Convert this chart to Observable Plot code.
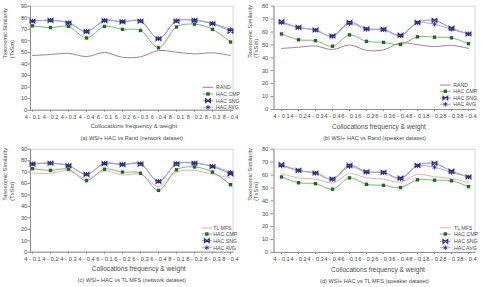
<!DOCTYPE html>
<html>
<head>
<meta charset="utf-8">
<script src="https://cdn.jsdelivr.net/npm/d3@7"></script>
<script src="https://cdn.jsdelivr.net/npm/@observablehq/plot@0.6"></script>
<style>
  html, body { margin: 0; padding: 0; background: #fff; }
  #wrap { position: relative; width: 481px; height: 287px; overflow: hidden; font-family: "Liberation Sans", Arial, sans-serif; }
  .panel { position: absolute; }
</style>
</head>
<body>
<div id="wrap"></div>
<script>
// Collocation frequency & weight settings on the x axis
const categories = ["4 - 0.1", "4 - 0.2", "4 - 0.3", "4 - 0.4", "6 - 0.1", "6 - 0.2", "6 - 0.3", "6 - 0.4", "8 - 0.1", "8 - 0.2", "8 - 0.3", "8 - 0.4"];

// Baselines
const randValues = [47.3, 48.2, 49.2, 46.4, 50.0, 45.8, 46.2, 51.6, 50.2, 48.7, 49.7, 47.3];
const networkTlMfs = [69.0, 69.0, 71.0, 64.5, 71.0, 67.5, 68.0, 57.5, 70.0, 71.5, 68.0, 65.0];
const speakerTlMfs = [61.0, 57.8, 56.8, 54.0, 61.0, 57.8, 56.8, 54.5, 60.5, 58.6, 57.3, 54.0];

// WSI + HAC, network dataset
const networkCmp = [73.0, 71.5, 72.5, 62.5, 72.5, 70.0, 69.0, 54.0, 72.0, 74.5, 70.0, 59.0];
const networkSng = [77.0, 77.7, 75.5, 68.0, 77.4, 76.5, 77.0, 61.8, 77.0, 77.7, 74.8, 68.4];
const networkAvg = [77.2, 77.9, 75.8, 68.2, 77.8, 76.8, 77.4, 62.0, 77.5, 78.0, 75.2, 70.0];

// WSI + HAC, speaker dataset
const speakerCmp = [58.5, 54.0, 53.3, 49.0, 57.8, 52.8, 52.0, 50.3, 56.3, 56.0, 55.5, 51.0];
const speakerSng = [68.0, 63.6, 61.6, 56.9, 67.5, 62.5, 62.0, 57.6, 67.5, 69.0, 63.0, 58.5];
const speakerAvg = [67.0, 63.4, 61.4, 56.6, 66.5, 62.0, 61.8, 57.0, 67.0, 66.0, 62.0, 58.5];

const ticksTo90 = [0, 10, 20, 30, 40, 50, 60, 70, 80, 90];
const ticksTo80 = [0, 10, 20, 30, 40, 50, 60, 70, 80];

const xTitle = "Collocations frequency & weight";
const yTitle = "Taxonomic Similarity";
const yUnit = "(TxSm)";

const colors = {
  text: "#4a4a4a",
  axis: "#8f8f8f",
  rand: "#b07a90",
  tl: "#f2aab4",
  cmpLine: "#72bc72",
  cmpMark: "#1c6a1c",
  sngLine: "#8d8ad6",
  avgLine: "#a9a7e2",
  mark: "#2a2a88"
};

// X with closed sides, like a small bowtie
const bowtie = {
  draw(ctx, size) {
    const r = Math.sqrt(size / Math.PI);
    const h = r * 0.8;
    ctx.moveTo(-r, -h); ctx.lineTo(r, h); ctx.lineTo(r, -h); ctx.lineTo(-r, h); ctx.closePath();
  }
};

const rows = (values) => categories.map((category, i) => ({category, value: values[i]}));

function panel(cfg) {
  const base = rows(cfg.baseline.values);
  const cmp = rows(cfg.cmp), sng = rows(cfg.sng), avg = rows(cfg.avg);
  const curve = "catmull-rom";
  const chart = Plot.plot({
    width: cfg.width, height: cfg.height,
    marginLeft: cfg.mL, marginRight: cfg.mR, marginTop: cfg.mT, marginBottom: cfg.mB,
    style: {fontFamily: '"Liberation Sans", Arial, sans-serif', color: colors.text, background: "white", overflow: "visible"},
    x: {type: "point", domain: categories, padding: cfg.pad, label: null},
    y: {domain: [0, cfg.yMax], label: null},
    marks: [
      Plot.frame({stroke: "#d8d8d8"}),
      Plot.frame({anchor: "left", stroke: colors.axis}),
      Plot.frame({anchor: "bottom", stroke: colors.axis}),
      Plot.axisY({ticks: cfg.yTicks, tickSize: cfg.yTickSize, tickPadding: cfg.yTickPad, fontSize: 5.6, stroke: colors.axis, label: null}),
      Plot.axisX({tickSize: 2, tickPadding: 2.5, fontSize: cfg.xTickFont, stroke: colors.axis, label: null}),
      Plot.line(base, {x: "category", y: "value", stroke: cfg.baseline.color, strokeWidth: 1, curve}),
      Plot.line(cmp, {x: "category", y: "value", stroke: colors.cmpLine, strokeWidth: 1, curve}),
      Plot.line(sng, {x: "category", y: "value", stroke: colors.sngLine, strokeWidth: 1, curve}),
      Plot.line(avg, {x: "category", y: "value", stroke: colors.avgLine, strokeWidth: 1, curve}),
      Plot.dot(cmp, {x: "category", y: "value", symbol: "square", r: 1.9, fill: colors.cmpMark}),
      Plot.dot(sng, {x: "category", y: "value", symbol: bowtie, r: 2.35, fill: "none", stroke: colors.mark, strokeWidth: 1.15}),
      Plot.dot(avg, {x: "category", y: "value", symbol: "asterisk", r: 2.1, stroke: colors.mark, strokeWidth: 0.9}),
      Plot.text([yTitle], {text: d => d, frameAnchor: "left", rotate: -90, dx: cfg.yTitleDx[0], fontSize: cfg.yTitleFont}),
      Plot.text([yUnit], {text: d => d, frameAnchor: "left", rotate: -90, dx: cfg.yTitleDx[1], fontSize: cfg.yTitleFont}),
      Plot.text([xTitle], {text: d => d, frameAnchor: "bottom", lineAnchor: "middle", dx: cfg.xTitleDx, dy: cfg.xTitleDy, fontSize: cfg.titleFont}),
      Plot.text([cfg.caption], {text: d => d, frameAnchor: "bottom", lineAnchor: "middle", dy: cfg.captionDy, fontSize: 5.6})
    ]
  });

  // Legend in the lower right corner of the plot area
  const lg = cfg.legend;
  const entries = [
    {label: cfg.baseline.name, line: cfg.baseline.color},
    {label: "HAC CMP", line: colors.cmpLine, symbol: d3.symbol(d3.symbolSquare, 1.9 * 1.9 * Math.PI)(), fill: colors.cmpMark},
    {label: "HAC SNG", line: colors.sngLine, symbol: d3.symbol(bowtie, 2.35 * 2.35 * Math.PI)(), stroke: colors.mark, sw: 1.15},
    {label: "HAC AVG", line: colors.avgLine, symbol: d3.symbol(d3.symbolAsterisk, 2.1 * 2.1 * Math.PI)(), stroke: colors.mark, sw: 0.9}
  ];
  const g = d3.select(chart).append("g")
    .attr("font-size", 5.2).attr("fill", colors.text).attr("text-anchor", "start");
  entries.forEach((e, i) => {
    const y = lg.rows[i];
    g.append("line").attr("x1", lg.x0).attr("x2", lg.x1).attr("y1", y).attr("y2", y).attr("stroke", e.line).attr("stroke-width", 1);
    if (e.symbol) {
      g.append("path").attr("d", e.symbol)
        .attr("transform", `translate(${(lg.x0 + lg.x1) / 2},${y})`)
        .attr("fill", e.fill || "none").attr("stroke", e.stroke || "none").attr("stroke-width", e.sw || 0);
    }
    g.append("text").attr("x", lg.tx).attr("y", y).attr("dy", "0.35em").text(e.label);
  });

  chart.classList.add("panel");
  chart.style.left = cfg.left + "px";
  chart.style.top = cfg.top + "px";
  document.getElementById("wrap").appendChild(chart);
}

const wide = {xTickFont: 5.5, titleFont: 6.1, yTitleFont: 5.5};
const tight = {xTickFont: 5.8, titleFont: 6.6, yTitleFont: 5.8};

panel({
  ...wide, left: 0, top: 0, width: 240, height: 143, mL: 30, mR: 7.5, mT: 5.7, mB: 33.3, pad: 0.04,
  yMax: 90, yTicks: ticksTo90, yTickSize: 2.5, yTickPad: 0.8, yTitleDx: [-25, -18],
  xTitleDx: 2, xTitleDy: 16.3, captionDy: 27.6,
  baseline: {name: "RAND", values: randValues, color: colors.rand},
  cmp: networkCmp, sng: networkSng, avg: networkAvg,
  caption: "(a) WSI+ HAC vs Rand (network dataset)",
  legend: {rows: [87.3, 94, 100.7, 107.3], x0: 202.7, x1: 213.3, tx: 216}
});

panel({
  ...tight, left: 240, top: 0, width: 241, height: 143, mL: 33.5, mR: 6.5, mT: 5.7, mB: 34, pad: 0.12,
  yMax: 80, yTicks: ticksTo80, yTickSize: 3, yTickPad: 2.8, yTitleDx: [-24, -18],
  xTitleDx: 4.5, xTitleDy: 17, captionDy: 29,
  baseline: {name: "RAND", values: randValues, color: colors.rand},
  cmp: speakerCmp, sng: speakerSng, avg: speakerAvg,
  caption: "(b) WSI+ HAC vs Rand (speaker dataset)",
  legend: {rows: [85, 91.3, 98, 104.3], x0: 200, x1: 210.7, tx: 213.3}
});

panel({
  ...tight, left: 0, top: 143, width: 240, height: 144, mL: 30, mR: 7.5, mT: 5.7, mB: 35.3, pad: 0.04,
  yMax: 90, yTicks: ticksTo90, yTickSize: 2.5, yTickPad: 0.8, yTitleDx: [-25, -18],
  xTitleDx: 7, xTitleDy: 17, captionDy: 28,
  baseline: {name: "TL MFS", values: networkTlMfs, color: colors.tl},
  cmp: networkCmp, sng: networkSng, avg: networkAvg,
  caption: "(c) WSI+ HAC vs TL MFS (network dataset)",
  legend: {rows: [85, 91, 97.7, 104.7], x0: 201.7, x1: 212, tx: 213.3}
});

panel({
  ...tight, left: 240, top: 143, width: 241, height: 144, mL: 33.5, mR: 6.5, mT: 5.7, mB: 35, pad: 0.12,
  yMax: 80, yTicks: ticksTo80, yTickSize: 3, yTickPad: 2.8, yTitleDx: [-24, -18],
  xTitleDx: 3.5, xTitleDy: 17, captionDy: 28.3,
  baseline: {name: "TL MFS", values: speakerTlMfs, color: colors.tl},
  cmp: speakerCmp, sng: speakerSng, avg: speakerAvg,
  caption: "(d) WSI+ HAC vs TL MFS (speaker dataset)",
  legend: {rows: [84.7, 91, 98.3, 104.7], x0: 200, x1: 210.7, tx: 214}
});
</script>
</body>
</html>
